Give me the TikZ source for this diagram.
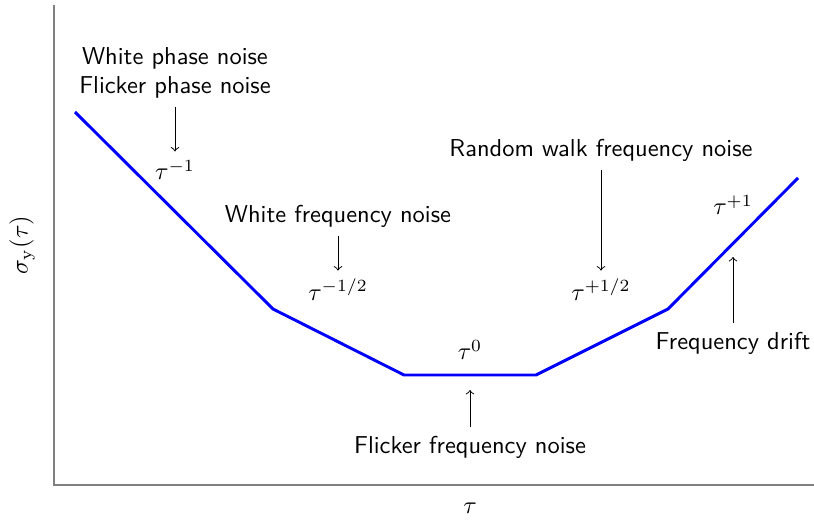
\documentclass[tikz,border=0pt]{standalone}
\usepackage{sansmath}
\usetikzlibrary{arrows}
\begin{document}
\begin{tikzpicture}[x=0.409pt,y=-0.409pt,font=\sffamily\sansmath]
\useasboundingbox (0,0) rectangle (814,521);
% axes
\draw[gray,line width=0.7pt] (54,5) -- (54,485) -- (814,485);
\node (xlab) at (470,508) {$\tau$};
\node[rotate=90] (ylab) at (22,245) {$\sigma_y(\tau)$};
% curve
\draw[blue,line width=1.2pt] (75,112) -- (273,309) -- (404,375) -- (536,375) -- (668,309) -- (798,178);
% labels
\node[align=center] (wpn) at (175,73) {White phase noise\\Flicker phase noise};
\node (tm1) at (175,170) {$\tau^{-1}$};
\draw[->] (wpn) -- (tm1);
\node (wfn) at (338,216) {White frequency noise};
\node (tmh) at (338,290) {$\tau^{-1/2}$};
\draw[->] (wfn) -- (tmh);
\node (tz) at (470,350) {$\tau^{0}$};
\node (ffn) at (470,447) {Flicker frequency noise};
\coordinate (ffnend) at (470,390);
\draw[->] (ffn) -- (ffnend);
\node (rwfn) at (601,150) {Random walk frequency noise};
\node (tph) at (601,290) {$\tau^{+1/2}$};
\draw[->] (rwfn) -- (tph);
\node (tp1) at (733,205) {$\tau^{+1}$};
\node (fd) at (733,343) {Frequency drift};
\coordinate (fdend) at (733,257);
\draw[->] (fd) -- (fdend);
\end{tikzpicture}
\end{document}
